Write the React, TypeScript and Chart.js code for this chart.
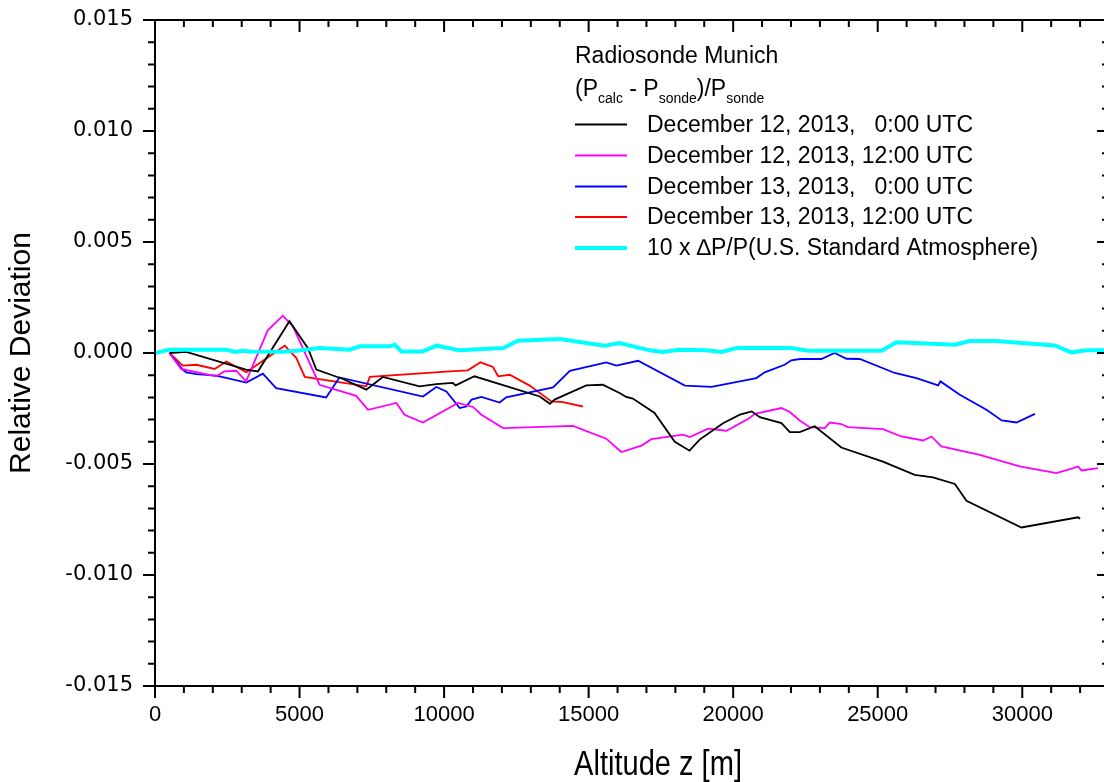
import React, { useEffect, useRef } from "react";
import { Chart, registerables } from "chart.js";

Chart.register(...registerables);

const FONT = "'Liberation Sans', Arial, Helvetica, sans-serif";
const WIDE = "'DejaVu Sans', 'Liberation Sans', Arial, sans-serif";

// axes
const X_MIN = 0;
const X_MAX = 33000;
const X_MAJOR = 5000;
const X_MINOR = 1000;
const Y_MIN = -0.015;
const Y_MAX = 0.015;
const Y_MAJOR = 0.005;
const Y_MINOR = 0.001;
const xTickValues = [0, 5000, 10000, 15000, 20000, 25000, 30000];
const yTickValues = [-0.015, -0.01, -0.005, 0, 0.005, 0.01, 0.015];
const yTickLabels = ["-0.015", "-0.010", "-0.005", "0.000", "0.005", "0.010", "0.015"];

const xTitle = "Altitude z [m]";
const yTitle = "Relative Deviation";
const legendHeader = "Radiosonde Munich";

const seriesLabels = [
  "December 12, 2013,   0:00 UTC",
  "December 12, 2013, 12:00 UTC",
  "December 13, 2013,   0:00 UTC",
  "December 13, 2013, 12:00 UTC",
  "10 x \u2206P/P(U.S. Standard Atmosphere)",
];
const seriesColors = ["#000000", "#ff00ff", "#0000ff", "#ff0000", "#00ffff"];

// December 12, 2013, 0:00 UTC
const dec12_00_alt = [500, 1080, 3150, 3560, 4650, 5290, 5580, 6500, 7310, 7880, 9150, 9730, 10300, 10400, 11050, 13310, 13660, 13820, 14920, 15490, 16070, 16300, 16530, 17280, 17980, 18490, 18840, 19650, 20230, 20640, 20920, 21670, 21960, 22300, 22820, 23740, 25180, 26280, 26910, 27670, 28070, 29970, 31930, 32000];
const dec12_00_dev = [0, 0.00005, -0.00075, -0.00083, 0.00143, 0.00022, -0.00075, -0.00117, -0.00165, -0.00108, -0.0015, -0.0014, -0.00135, -0.00146, -0.00105, -0.00196, -0.00229, -0.0021, -0.00146, -0.00143, -0.0018, -0.00198, -0.00205, -0.0027, -0.004, -0.0044, -0.0039, -0.00316, -0.00278, -0.00263, -0.00289, -0.00316, -0.00356, -0.00356, -0.0033, -0.00426, -0.00489, -0.00549, -0.0056, -0.0059, -0.00666, -0.00786, -0.0074, -0.00747];

// December 12, 2013, 12:00 UTC
const dec12_12_alt = [500, 900, 2120, 2400, 2810, 3150, 3900, 4420, 4770, 5690, 6960, 7370, 8350, 8630, 9270, 10480, 11000, 11290, 12040, 14460, 15610, 16130, 16830, 17170, 18270, 18500, 19130, 19770, 20570, 20750, 21670, 21960, 22300, 22650, 23170, 23340, 23740, 23970, 25180, 25820, 26570, 26860, 27200, 28530, 29910, 31180, 31760, 31930, 32050, 32620];
const dec12_12_dev = [0, -0.00072, -0.00105, -0.00083, -0.0008, -0.00128, 0.00102, 0.00168, 0.0012, -0.00143, -0.00193, -0.00256, -0.00225, -0.00278, -0.00313, -0.00225, -0.00243, -0.00278, -0.00338, -0.00328, -0.00386, -0.00446, -0.00417, -0.00388, -0.00368, -0.00379, -0.00341, -0.0035, -0.00293, -0.00274, -0.00248, -0.00266, -0.00304, -0.00334, -0.00338, -0.00313, -0.0032, -0.00334, -0.00343, -0.00376, -0.00394, -0.00376, -0.00421, -0.00459, -0.00511, -0.00541, -0.00519, -0.00511, -0.00529, -0.00519];

// December 13, 2013, 0:00 UTC
const dec13_00_alt = [500, 960, 1080, 1430, 2120, 3160, 3730, 4190, 5920, 6380, 9270, 9730, 10080, 10540, 10770, 10950, 11290, 11920, 12150, 13770, 14350, 15610, 15960, 16710, 18330, 19250, 20230, 20800, 21090, 21780, 22010, 22310, 23050, 23510, 23920, 24380, 25590, 26340, 27090, 27170, 27840, 28760, 29290, 29800, 30440];
const dec13_00_dev = [0, -0.00075, -0.00087, -0.00095, -0.00102, -0.00133, -0.00093, -0.00158, -0.002, -0.0011, -0.00196, -0.00153, -0.00173, -0.00248, -0.00241, -0.0021, -0.00198, -0.00223, -0.002, -0.00155, -0.0008, -0.00042, -0.00057, -0.00035, -0.00147, -0.00153, -0.00128, -0.00113, -0.00087, -0.00053, -0.00033, -0.00027, -0.00027, 0, -0.00026, -0.00027, -0.0009, -0.00113, -0.00146, -0.00128, -0.00188, -0.00256, -0.00304, -0.00313, -0.00274];

// December 13, 2013, 12:00 UTC
const dec13_12_alt = [500, 960, 1430, 2060, 2470, 3160, 4490, 4890, 5180, 7310, 7430, 10190, 10820, 11260, 11690, 11870, 12270, 12960, 13710, 14110, 14800];
const dec13_12_dev = [0, -0.00057, -0.00053, -0.00072, -0.00038, -0.00087, 0.00033, -0.00023, -0.00108, -0.0015, -0.00108, -0.00083, -0.00078, -0.00042, -0.00063, -0.00105, -0.00098, -0.00147, -0.00218, -0.00221, -0.00241];

// 10 x dP/P (U.S. Standard Atmosphere)
const stdAtm_alt = [0, 500, 2470, 2750, 3030, 3270, 4420, 4900, 5700, 6730, 7080, 8120, 8290, 8530, 9260, 9740, 10540, 12050, 12550, 14000, 15550, 16070, 17110, 17570, 18150, 19070, 19590, 20110, 22010, 22590, 25130, 25650, 27670, 28180, 29100, 31120, 31700, 32220, 33000];
const stdAtm_dev = [0, 0.00015, 0.00015, 0.00005, 0.0001, 0.00007, 0.00006, 0.0001, 0.00022, 0.00015, 0.0003, 0.0003, 0.00037, 0.00007, 0.00007, 0.00033, 0.00012, 0.00022, 0.00055, 0.00063, 0.00033, 0.00045, 0.00012, 0.00005, 0.00015, 0.00012, 0.00005, 0.00022, 0.00022, 0.0001, 0.0001, 0.00048, 0.00037, 0.00054, 0.00054, 0.00034, 0.00003, 0.00012, 0.00012];

const seriesAlt = [dec12_00_alt, dec12_12_alt, dec13_00_alt, dec13_12_alt, stdAtm_alt];
const seriesDev = [dec12_00_dev, dec12_12_dev, dec13_00_dev, dec13_12_dev, stdAtm_dev];
const seriesWidths = [1.8, 1.8, 1.8, 1.8, 4];

const toPoints = (xs: number[], ys: number[]) => xs.map((x, i) => ({ x, y: ys[i] }));

const framePlugin = {
  id: "frameTicks",
  afterDatasetsDraw(chart: any) {
    const { ctx, chartArea: a, scales } = chart;
    const xs = scales.x;
    const ys = scales.y;
    ctx.save();
    ctx.strokeStyle = "#000";
    ctx.lineWidth = 2;
    ctx.beginPath();
    ctx.rect(a.left, a.top, a.right - a.left, a.bottom - a.top);
    ctx.stroke();
    ctx.beginPath();
    const nx = Math.round((X_MAX - X_MIN) / X_MINOR);
    for (let i = 0; i <= nx; i++) {
      const v = X_MIN + i * X_MINOR;
      const px = xs.getPixelForValue(v);
      const major = Math.abs(v / X_MAJOR - Math.round(v / X_MAJOR)) < 1e-6;
      const len = major ? 12 : 7;
      ctx.moveTo(px, a.bottom);
      ctx.lineTo(px, a.bottom + len);
      ctx.moveTo(px, a.top);
      ctx.lineTo(px, a.top + len);
    }
    const ny = Math.round((Y_MAX - Y_MIN) / Y_MINOR);
    for (let i = 0; i <= ny; i++) {
      const v = Y_MIN + i * Y_MINOR;
      const py = ys.getPixelForValue(v);
      const major = Math.abs(v / Y_MAJOR - Math.round(v / Y_MAJOR)) < 1e-6;
      const len = major ? 12 : 7;
      ctx.moveTo(a.left - len, py);
      ctx.lineTo(a.left, py);
      ctx.moveTo(a.right - len, py);
      ctx.lineTo(a.right, py);
    }
    ctx.stroke();
    ctx.restore();
  },
};

const textPlugin = {
  id: "customText",
  afterDraw(chart: any) {
    const { ctx } = chart;
    ctx.save();
    ctx.fillStyle = "#000";
    // x-axis title (condensed look)
    ctx.save();
    ctx.font = `35px ${FONT}`;
    ctx.textAlign = "center";
    ctx.textBaseline = "alphabetic";
    ctx.translate(658, 775);
    ctx.scale(0.83, 1);
    ctx.fillText(xTitle, 0, 0);
    ctx.restore();

    // legend
    ctx.textAlign = "left";
    ctx.textBaseline = "alphabetic";
    ctx.font = `23px ${FONT}`;
    ctx.fillText(legendHeader, 575, 63);
    const parts: [string, boolean][] = [
      ["(P", false],
      ["calc", true],
      [" - P", false],
      ["sonde", true],
      [")/P", false],
      ["sonde", true],
    ];
    let x = 575;
    for (const [t, sub] of parts) {
      ctx.font = sub ? `14px ${FONT}` : `23px ${FONT}`;
      ctx.fillText(t, x, sub ? 103 : 96);
      x += ctx.measureText(t).width;
    }
    const rowY = [124.5, 155.5, 186.5, 217, 248];
    chart.data.datasets.forEach((ds: any, i: number) => {
      const y = rowY[i];
      ctx.strokeStyle = ds.borderColor;
      ctx.lineWidth = ds.borderWidth;
      ctx.beginPath();
      ctx.moveTo(575, y);
      ctx.lineTo(627, y);
      ctx.stroke();
      ctx.font = `23px ${FONT}`;
      ctx.textBaseline = "middle";
      ctx.fillText(ds.label, 647, y + 1);
    });
    ctx.restore();
  },
};

export default function App() {
  const ref = useRef<HTMLCanvasElement>(null);

  useEffect(() => {
    const canvas = ref.current;
    if (!canvas) return;
    const datasets = seriesLabels.map((label, i) => ({
      label,
      data: toPoints(seriesAlt[i], seriesDev[i]),
      borderColor: seriesColors[i],
      backgroundColor: seriesColors[i],
      borderWidth: seriesWidths[i],
      pointRadius: 0,
      tension: 0,
      fill: false,
      order: i === 4 ? 0 : i + 1,
    }));
    const chart = new Chart(canvas, {
      type: "line",
      data: { datasets },
      options: {
        responsive: false,
        animation: false,
        devicePixelRatio: 1,
        layout: { padding: { top: 20, right: 11, bottom: 0, left: 0 } },
        plugins: {
          legend: { display: false },
          tooltip: { enabled: false },
        },
        scales: {
          x: {
            type: "linear",
            position: "bottom",
            min: X_MIN,
            max: X_MAX,
            grid: { display: false, drawTicks: false },
            border: { display: false },
            afterBuildTicks: (s: any) => {
              s.ticks = xTickValues.map((value) => ({ value }));
            },
            ticks: {
              autoSkip: false,
              maxRotation: 0,
              minRotation: 0,
              padding: 16,
              color: "#000",
              font: { family: FONT, size: 22 },
              callback: (v: any) => String(v),
            },
            afterFit: (s: any) => {
              s.height = 96;
              s.paddingLeft = 0;
              s.paddingRight = 0;
            },
          },
          y: {
            type: "linear",
            min: Y_MIN,
            max: Y_MAX,
            grid: { display: false, drawTicks: false },
            border: { display: false },
            afterBuildTicks: (s: any) => {
              s.ticks = yTickValues.map((value) => ({ value }));
            },
            ticks: {
              autoSkip: false,
              padding: 22,
              color: "#000",
              font: { family: WIDE, size: 21 },
              callback: (v: any) => {
                const idx = yTickValues.findIndex((t) => Math.abs(t - Number(v)) < 1e-9);
                return idx >= 0 ? yTickLabels[idx] : "";
              },
            },
            title: {
              display: true,
              text: yTitle,
              color: "#000",
              font: { family: FONT, size: 30 },
              padding: { top: 4, bottom: 0 },
            },
            afterFit: (s: any) => {
              s.width = 155;
              s.paddingTop = 0;
              s.paddingBottom = 0;
            },
          },
        },
      },
      plugins: [framePlugin, textPlugin],
    });
    return () => chart.destroy();
  }, []);

  return (
    <div
      style={{
        position: "fixed",
        left: 0,
        top: 0,
        width: 1104,
        height: 782,
        overflow: "hidden",
        background: "#fff",
      }}
    >
      <canvas ref={ref} width={1120} height={782} style={{ display: "block", width: 1120, height: 782 }} />
    </div>
  );
}
